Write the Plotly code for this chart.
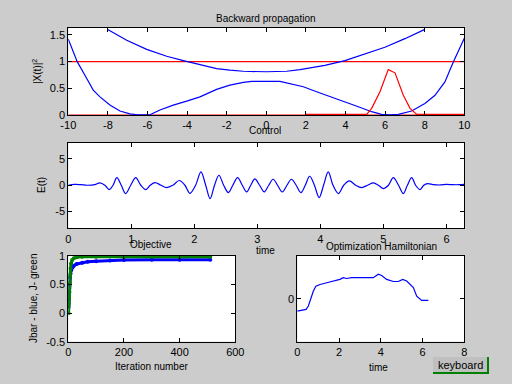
import plotly.graph_objects as go

# ---------------- data ----------------
# Backward propagation (top panel)
x_lower = [-10, -9.55, -9.16, -8.74, -8.4, -7.9, -7.39, -6.89, -6.5, -6.2, -5.88, -5.37, -4.70, -4.02,
           -3.35, -2.51, -1.84, -1.16, -0.74, 0.69, 1.19, 1.87, 2.54, 3.22, 3.97, 4.65, 5.32, 5.82,
           6.25, 6.67, 7.34, 8.01, 8.52, 9.02, 9.44, 10]
y_lower = [1.42, 1.0, 0.745, 0.466, 0.34, 0.186, 0.075, 0.02, 0.005, 0.0, 0.005, 0.093, 0.186, 0.26,
           0.34, 0.48, 0.56, 0.61, 0.63, 0.63, 0.59, 0.53, 0.435, 0.34, 0.25, 0.155, 0.062, 0.012,
           0.005, 0.012, 0.075, 0.217, 0.37, 0.62, 0.99, 1.44]
x_upper = [-8.01, -7.05, -6.04, -5.03, -4.19, -3.35, -2.51, -1.84, -1.16, 0.0, 1.03, 1.70, 2.37,
           2.96, 3.97, 4.98, 5.99, 7.0, 7.98]
y_upper = [1.60, 1.40, 1.23, 1.10, 1.02, 0.94, 0.87, 0.84, 0.82, 0.81, 0.82, 0.85, 0.90,
           0.93, 1.02, 1.15, 1.27, 1.43, 1.60]
x_packet = [2.0, 3.0, 4.0, 5.07, 5.32, 5.74, 6.16, 6.50, 6.92, 7.26, 7.6, 8.0, 9.0, 10.0]
y_packet = [0.012, 0.012, 0.012, 0.012, 0.124, 0.435, 0.85, 0.79, 0.37, 0.124, 0.012, 0.012, 0.012, 0.012]
x_ref = [-10, 10]
y_ref_one = [1, 1]
y_ref_zero = [0, 0]

# Control E(t)
t_ctrl = [0, 0.1, 0.2, 0.3, 0.42, 0.5, 0.58, 0.65, 0.71, 0.77, 0.84, 0.91, 0.99, 1.07, 1.15, 1.23,
          1.30, 1.375, 1.47, 1.56, 1.66, 1.76, 1.85, 1.93, 2.02, 2.105, 2.18, 2.25, 2.32, 2.39,
          2.465, 2.54, 2.61, 2.687, 2.76, 2.83, 2.895, 2.96, 3.035, 3.11, 3.18, 3.25, 3.32, 3.395,
          3.47, 3.54, 3.615, 3.69, 3.76, 3.83, 3.905, 3.98, 4.05, 4.125, 4.20, 4.284, 4.37, 4.459,
          4.56, 4.654, 4.75, 4.84, 4.92, 5.0, 5.08, 5.157, 5.24, 5.316, 5.38, 5.448, 5.51, 5.58,
          5.64, 5.70, 5.8, 5.9, 6.0, 6.1, 6.2, 6.283]
E_ctrl = [0, 0.15, 0.1, 0, 0.1, 0.44, 0, -0.82, 0, 1.46, 0, -1.58, 0, 1.46, 0, -0.82,
          0, 0.5, 0, -0.44, 0, 0.9, 0, -1.55, 0, 2.55, 0, -2.55, 0, 1.9,
          0, -1.39, 0, 1.46, 0, -1.27, 0, 1.2, 0, -1.27, 0, 1.14, 0, -1.27,
          0, 1.14, 0, -1.39, 0, 1.71, 0, -2.34, 0, 2.55, 0, -1.58, 0, 0.82,
          0, -0.44, 0, 0.44, 0, -0.63, 0, 1.46, 0, -1.58, 0, 1.46, 0, -0.82,
          0, 0.32, 0.1, 0.05, 0.15, 0.1, 0.1, 0.15]

# Objective
iter_J = [1, 2, 3, 4, 5, 6, 8, 10, 14, 20, 30, 50, 100, 200, 300, 400, 510]
J_vals = [0.0, 0.165, 0.27, 0.37, 0.53, 0.66, 0.78, 0.87, 0.93, 0.96, 0.98, 0.985, 0.985, 0.985,
          0.985, 0.985, 0.985]
iter_Jbar = [1, 2, 3, 4, 6, 8, 10, 15, 20, 30, 50, 70, 100, 150, 200, 300, 400, 510]
Jbar_vals = [0.106, 0.235, 0.36, 0.5, 0.62, 0.69, 0.75, 0.8, 0.83, 0.86, 0.88, 0.9, 0.91, 0.92,
             0.93, 0.935, 0.935, 0.935]

# Optimization Hamiltonian
t_ham = [0, 0.29, 0.42, 0.53, 0.64, 0.77, 0.89, 1.09, 1.41, 1.73, 2.04, 2.2, 2.36, 2.6, 3.64,
         3.88, 4.04, 4.28, 4.6, 4.84, 5.05, 5.24, 5.56, 5.72, 5.96, 6.28]
H_vals = [-0.29, -0.27, -0.25, -0.17, -0.016, 0.18, 0.29, 0.33, 0.37, 0.41, 0.45, 0.49, 0.47, 0.49,
          0.49, 0.57, 0.54, 0.45, 0.40, 0.40, 0.45, 0.41, 0.26, 0.06, -0.04, -0.04]

# ---------------- figure ----------------
W, H = 512, 384
BLUE = "#0000ff"
RED = "#ff0000"
GREEN = "#008000"
FONT = "Liberation Sans"


def px(x):
    return x / W


def py(y):
    return 1 - y / H


fig = go.Figure()

fig.add_trace(go.Scatter(x=x_ref, y=y_ref_one, mode="lines", line=dict(color=RED, width=1.2),
                         xaxis="x", yaxis="y"))
fig.add_trace(go.Scatter(x=x_ref, y=y_ref_zero, mode="lines", line=dict(color=RED, width=1.2),
                         xaxis="x", yaxis="y"))
fig.add_trace(go.Scatter(x=x_lower, y=y_lower, mode="lines", line=dict(color=BLUE, width=1.2),
                         xaxis="x", yaxis="y"))
fig.add_trace(go.Scatter(x=x_upper, y=y_upper, mode="lines", line=dict(color=BLUE, width=1.2),
                         xaxis="x", yaxis="y"))
fig.add_trace(go.Scatter(x=x_packet, y=y_packet, mode="lines", line=dict(color=RED, width=1.2),
                         xaxis="x", yaxis="y"))

fig.add_trace(go.Scatter(x=t_ctrl, y=E_ctrl, mode="lines", line=dict(color=BLUE, width=1.2, shape="spline"),
                         xaxis="x2", yaxis="y2"))

fig.add_trace(go.Scatter(x=iter_Jbar, y=Jbar_vals, mode="lines+markers",
                         line=dict(color=BLUE, width=3), marker=dict(color=BLUE, size=4),
                         xaxis="x3", yaxis="y3"))
fig.add_trace(go.Scatter(x=iter_J, y=J_vals, mode="lines+markers",
                         line=dict(color=GREEN, width=3), marker=dict(color=GREEN, size=4),
                         xaxis="x3", yaxis="y3"))

fig.add_trace(go.Scatter(x=t_ham, y=H_vals, mode="lines", line=dict(color=BLUE, width=1.2),
                         xaxis="x4", yaxis="y4"))

axis_common = dict(showline=True, linecolor="black", linewidth=1, mirror="allticks", ticks="inside",
                   ticklen=4, tickcolor="black", showgrid=False, zeroline=False, automargin=False,
                   tickfont=dict(family=FONT, size=11, color="black"), fixedrange=True)


def ax(domain, rng, vals, texts, anchor):
    d = dict(axis_common)
    d.update(domain=domain, range=rng, tickvals=vals, ticktext=texts, anchor=anchor)
    return d


fig.update_layout(
    width=W, height=H, autosize=False,
    margin=dict(l=0, r=0, t=0, b=0, pad=0, autoexpand=False),
    paper_bgcolor="#cccccc", plot_bgcolor="white", showlegend=False,
    xaxis=ax([px(68.3), px(464.3)], [-10, 10], list(range(-10, 11, 2)),
             [str(v) for v in range(-10, 11, 2)], "y"),
    yaxis=ax([py(115), py(28)], [0, 1.63], [0, 0.5, 1, 1.5], ["0", "0.5", "1", "1.5"], "x"),
    xaxis2=ax([px(68.3), px(464.3)], [0, 6.2832], [0, 1, 2, 3, 4, 5, 6],
              ["0", "1", "2", "3", "4", "5", "6"], "y2"),
    yaxis2=ax([py(228.3), py(142.7)], [-8.2, 8.1], [-5, 0, 5], ["-5", "0", "5"], "x2"),
    xaxis3=ax([px(68.3), px(235.3)], [0, 600], [0, 200, 400, 600], ["0", "200", "400", "600"], "y3"),
    yaxis3=ax([py(341.7), py(256)], [-0.5, 1], [-0.5, 0, 0.5, 1], ["-0.5", "0", "0.5", "1"], "x3"),
    xaxis4=ax([px(297.3), px(464.3)], [0, 8], [0, 2, 4, 6, 8], ["0", "2", "4", "6", "8"], "y4"),
    yaxis4=ax([py(341.7), py(255.7)], [-1, 1], [0], ["0"], "x4"),
)


def label(text, x, y, angle=0, size=10):
    fig.add_annotation(text=text, x=px(x), y=py(y), xref="paper", yref="paper", showarrow=False,
                       xanchor="center", yanchor="middle", textangle=angle,
                       font=dict(family=FONT, size=size, color="black"))


label("Backward propagation", 266, 18)
label("|X(t)|<sup>2</sup>", 37, 72, -90)
label("Control", 265, 131)
label("E(t)", 42, 185, -90)
label("time", 265, 250)
label("Objective", 151, 244)
label("Jbar - blue, J- green", 33, 298, -90)
label("Iteration number", 151, 366)
label("Optimization Hamiltonian", 381, 246)
label("time", 378, 367)

# keyboard button
fig.add_shape(type="rect", xref="paper", yref="paper", x0=px(433), x1=px(488), y0=py(373), y1=py(357),
              fillcolor="#c0c0c0", line=dict(width=0))
fig.add_shape(type="line", xref="paper", yref="paper", x0=px(433), x1=px(489), y0=py(373), y1=py(373),
              line=dict(color=GREEN, width=2))
fig.add_shape(type="line", xref="paper", yref="paper", x0=px(488), x1=px(488), y0=py(357), y1=py(373),
              line=dict(color=GREEN, width=2))
fig.add_annotation(text="keyboard", x=px(460), y=py(365), xref="paper", yref="paper", showarrow=False,
                   xanchor="center", yanchor="middle", font=dict(family=FONT, size=11, color="black"))

fig.write_html(
    "out.html",
    config={"displayModeBar": False, "staticPlot": True},
    post_script="document.body.style.margin='0';document.body.style.padding='0';"
                "document.body.style.background='#cccccc';document.body.style.overflow='hidden';",
)
